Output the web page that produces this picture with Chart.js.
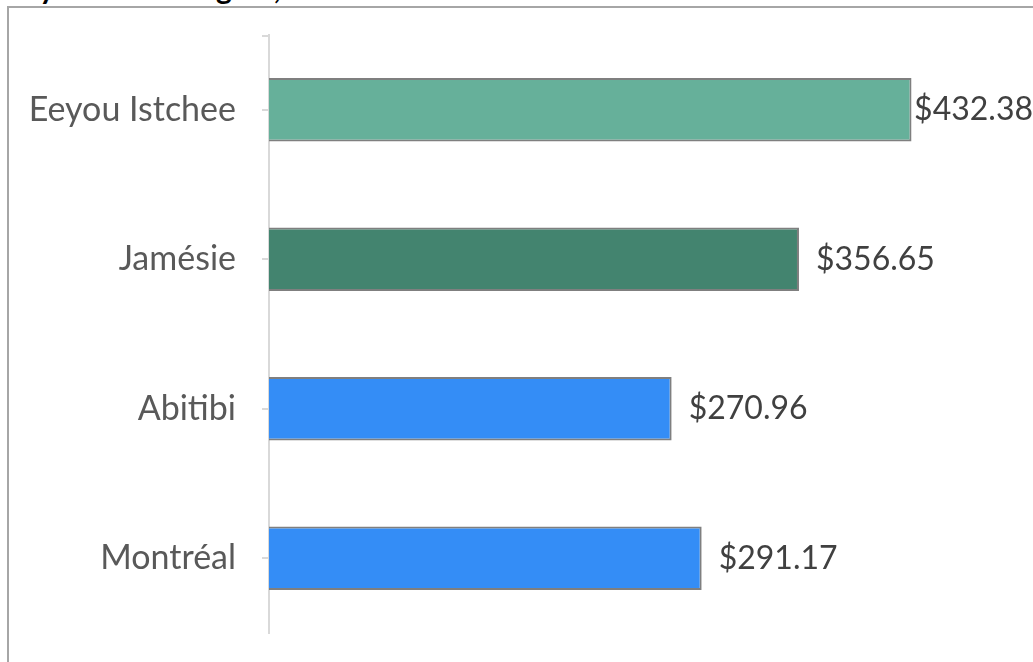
<!DOCTYPE html>
<html>
<head>
<meta charset="utf-8">
<script src="https://cdn.jsdelivr.net/npm/chart.js"></script>
<style>
  html, body { margin: 0; padding: 0; background: #fff; overflow: hidden; }
  body { width: 1033px; height: 662px; position: relative; }
  #frame {
    position: absolute; left: 7px; top: 6px; width: 2000px; height: 2000px;
    border-left: 2px solid #a6a6a6; border-top: 2px solid #a6a6a6;
  }
  #titre {
    position: absolute; left: 0; top: -28px; white-space: nowrap;
    font: bold 30px/30px Lato, sans-serif; color: #000;
  }
  #wrap { position: absolute; left: 0; top: 0; width: 1033px; height: 662px; }
</style>
</head>
<body>
<div id="titre">Dail<span id="ancre">y</span> Cost Per Region, 2023</div>
<div id="frame"></div>
<div id="wrap"><canvas id="graphique"></canvas></div>
<script>
const regions = ['Eeyou Istchee', 'Jamésie', 'Abitibi', 'Montréal'];
const couts = [432.38, 356.65, 270.96, 291.17];
const couleurs = ['#66b09a', '#43846f', '#348df6', '#348df6'];

// le titre est coupé en haut, on cale le "y" comme sur l'original
const ancre = document.getElementById('ancre');
document.getElementById('titre').style.left = (47 - ancre.offsetLeft - ancre.offsetWidth / 2) + 'px';

// etiquettes de valeur au bout des barres
const etiquettes = {
  id: 'etiquettes',
  afterDatasetsDraw(chart) {
    const c = chart.ctx;
    const meta = chart.getDatasetMeta(0);
    c.save();
    c.font = '32px Lato, sans-serif';
    c.fillStyle = '#404040';
    c.textBaseline = 'middle';
    meta.data.forEach((bar, i) => {
      const txt = '$' + couts[i].toFixed(2);
      const w = c.measureText(txt).width;
      const x = Math.min(bar.x + 17, chart.width - w);
      c.fillText(txt, x, bar.y);
    });
    c.restore();
  }
};

// petit trait en haut de l'axe
const trait = {
  id: 'trait',
  afterDraw(chart) {
    const s = chart.scales.y;
    const c = chart.ctx;
    c.save();
    c.strokeStyle = '#d9d9d9';
    c.lineWidth = 2;
    c.beginPath();
    c.moveTo(s.right - 7, s.top + 1);
    c.lineTo(s.right, s.top + 1);
    c.stroke();
    c.restore();
  }
};

const ctx = document.getElementById('graphique');

new Chart(ctx, {
  type: 'bar',
  data: {
    labels: regions,
    datasets: [{
      data: couts,
      backgroundColor: couleurs,
      borderColor: '#7f7f7f',
      borderWidth: 2,
      categoryPercentage: 1,
      barPercentage: 0.425
    }]
  },
  options: {
    indexAxis: 'y',
    responsive: true,
    maintainAspectRatio: false,
    animation: false,
    layout: { padding: { top: 35, bottom: 29, right: 21, left: 0 } },
    plugins: { legend: { display: false }, tooltip: { enabled: false } },
    scales: {
      x: { display: false, min: 0, max: 500 },
      y: {
        afterFit(scale) {
          scale.width = 269;
          scale.paddingTop = 0;
          scale.paddingBottom = 0;
        },
        grid: { drawOnChartArea: false, offset: false, color: '#d9d9d9', lineWidth: 2, tickLength: 7 },
        border: { color: '#d9d9d9', width: 2 },
        ticks: { color: '#595959', font: { family: 'Lato', size: 34 }, padding: 26 }
      }
    }
  },
  plugins: [etiquettes, trait]
});
</script>
</body>
</html>
